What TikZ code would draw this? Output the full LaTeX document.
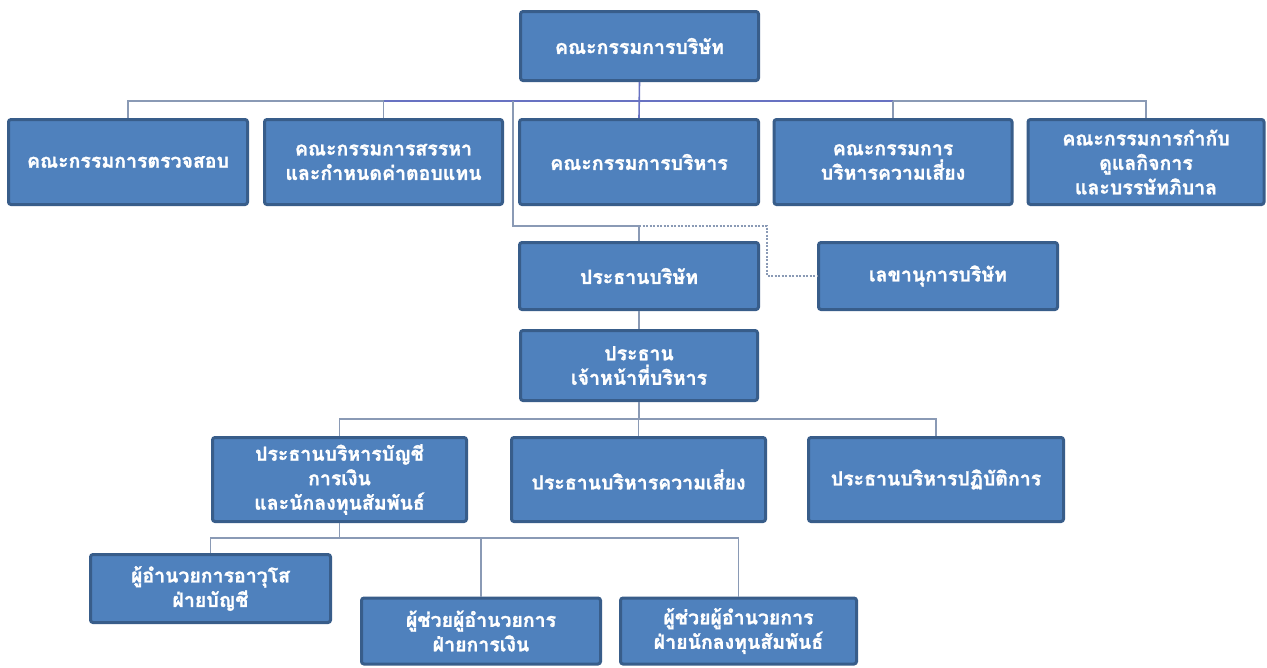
\documentclass[tikz,border=0pt]{standalone}
\usepackage{fontspec}
\newfontfamily\thaifont[Script=Thai, BoldFeatures={FakeBold=1.3}]{Loma}
\definecolor{boxfill}{HTML}{4F81BD}
\definecolor{boxline}{HTML}{385D8A}
\definecolor{linkgray}{HTML}{8A9AB5}
\definecolor{linkpurple}{HTML}{6872C2}
\begin{document}
\begin{tikzpicture}[x=1pt,y=-1pt,
  org/.style={rectangle, rounded corners=2.5pt, fill=boxfill, draw=boxline,
    line width=3pt, text=white, align=center, inner sep=2pt,
    font=\thaifont\bfseries\fontsize{19.5}{24.5}\selectfont},
  link/.style={draw=linkgray, line width=1.4pt},
  mainlink/.style={draw=linkpurple, line width=1.6pt},
  dashlink/.style={draw=linkgray, line width=1.2pt, dash pattern=on 2pt off 1.5pt}]
\useasboundingbox (0,0) rectangle (1267,667);
\fill[white] (0,0) rectangle (1267,667);

% nodes
\node[org, minimum width=238pt, minimum height=69pt] (board) at (639.5,46) {คณะกรรมการบริษัท};

\node[org, minimum width=239pt, minimum height=85pt] (c1) at (128,162) {คณะกรรมการตรวจสอบ};
\node[org, minimum width=238pt, minimum height=85pt] (c2) at (383.5,162) {คณะกรรมการสรรหา\\และกำหนดค่าตอบแทน};
\node[org, minimum width=239pt, minimum height=85pt] (c3) at (639,162) {คณะกรรมการบริหาร};
\node[org, minimum width=238pt, minimum height=85pt] (c4) at (893,162) {คณะกรรมการ\\บริหารความเสี่ยง};
\node[org, minimum width=236pt, minimum height=85pt] (c5) at (1146,162) {คณะกรรมการกำกับ\\ดูแลกิจการ\\และบรรษัทภิบาล};

\node[org, minimum width=239pt, minimum height=67pt] (pres) at (639,276) {ประธานบริษัท};
\node[org, minimum width=239pt, minimum height=67pt] (sec) at (938,276) {เลขานุการบริษัท};

\node[org, minimum width=237pt, minimum height=70pt] (ceo) at (639,365.5) {ประธาน\\เจ้าหน้าที่บริหาร};

\node[org, minimum width=254pt, minimum height=84pt] (cfo) at (339.5,479.5) {ประธานบริหารบัญชี\\การเงิน\\และนักลงทุนสัมพันธ์};
\node[org, minimum width=254pt, minimum height=84pt] (cro) at (638.5,479.5) {ประธานบริหารความเสี่ยง};
\node[org, minimum width=255pt, minimum height=84pt] (coo) at (936,479.5) {ประธานบริหารปฏิบัติการ};

\node[org, minimum width=240pt, minimum height=68pt] (d1) at (210.5,588.5) {ผู้อำนวยการอาวุโส\\ฝ่ายบัญชี};
\node[org, minimum width=239pt, minimum height=66pt] (d2) at (481,631) {ผู้ช่วยผู้อำนวยการ\\ฝ่ายการเงิน};
\node[org, minimum width=236pt, minimum height=66pt] (d3) at (738.5,631) {ผู้ช่วยผู้อำนวยการ\\ฝ่ายนักลงทุนสัมพันธ์};

% bus coordinates
\coordinate (busA) at (0,101);
\coordinate (tap) at (513,101);
\coordinate (elbow) at (513,226);
\coordinate (dcorner) at (767,226);
\coordinate (busB) at (0,419);
\coordinate (busC) at (0,538);

% board level connectors
\path[link] (c1.north) -- (c1.north |- busA) -- (c5.north |- busA) -- (c5.north);
\path[mainlink] (c2.north |- busA) -- (c4.north |- busA);
\path[link] (c2.north) -- (c2.north |- busA);
\path[mainlink] (c3.north) -- (board.south);
\path[link] (c4.north) -- (c4.north |- busA);
\path[link] (tap) -- (elbow) -- (elbow -| pres.north) -- (pres.north);
\path[dashlink] (elbow -| pres.north) -- (dcorner) |- (sec.west);

\path[link] (pres.south) -- (ceo.north);

% executive level
\path[link] (ceo.south) -- (ceo.south |- busB);
\path[link] (cfo.north) -- (cfo.north |- busB) -- (coo.north |- busB) -- (coo.north);
\path[link] (cro.north) -- (cro.north |- busB);

% department level
\path[link] (cfo.south) -- (cfo.south |- busC);
\path[link] (d1.north) -- (d1.north |- busC) -- (d3.north |- busC) -- (d3.north);
\path[link] (d2.north) -- (d2.north |- busC);
\end{tikzpicture}
\end{document}
